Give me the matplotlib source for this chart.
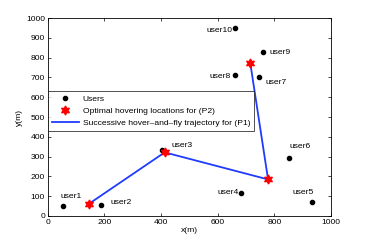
import numpy as np
import matplotlib.pyplot as plt

plt.rcParams['font.family'] = ['Liberation Sans', 'DejaVu Sans']

# user locations (m)
user_names = ['user1', 'user2', 'user3', 'user4', 'user5',
              'user6', 'user7', 'user8', 'user9', 'user10']
user_x = [54, 187, 403, 684, 934, 851, 747, 661, 761, 662]
user_y = [51, 54, 331, 117, 68, 291, 703, 711, 828, 951]

# optimal hovering locations, in flying order
hover_x = [146, 413, 778, 715]
hover_y = [61, 321, 184, 775]

# label offsets (data units) and alignment
label_dx = [-8, 33, 35, -10, -69, 2, 23, -14, 21, -9]
label_dy = [45, 12, 24, 0, 49, 59, -27, -8, 0, -13]
label_ha = ['left', 'left', 'left', 'right', 'left',
            'left', 'left', 'right', 'left', 'right']

fig = plt.figure(figsize=(3.65, 2.43), dpi=100)
ax = fig.add_axes([0.1307, 0.112, 0.776, 0.813])

fs = 6.1
ax.plot(user_x, user_y, 'o', color='k', markersize=3, linestyle='none', label='Users')
ax.plot(hover_x, hover_y, linestyle='none', marker=(6, 1, 0), color='red',
        markersize=6.5, label='Optimal hovering locations for (P2)', zorder=4)
ax.plot(hover_x, hover_y, '-', color='#1f3bff', linewidth=1.3,
        label='Successive hover\u2013and\u2013fly trajectory for (P1)', zorder=3)

for name, x, y, dx, dy, ha in zip(user_names, user_x, user_y, label_dx, label_dy, label_ha):
    ax.text(x + dx, y + dy, name, ha=ha, va='center', fontsize=fs)

ax.set_xlim(0, 1000)
ax.set_ylim(0, 1000)
ax.set_xticks(np.arange(0, 1001, 200))
ax.set_yticks(np.arange(0, 1001, 100))
ax.tick_params(direction='in', top=True, right=True, labelsize=fs, length=2.5, width=0.5, pad=2)
for s in ax.spines.values():
    s.set_linewidth(0.6)
ax.set_xlabel('x(m)', fontsize=fs, labelpad=1)
ax.set_ylabel('y(m)', fontsize=fs, labelpad=2)

leg = ax.legend(loc='upper left', bbox_to_anchor=(0.0, 0.632), fontsize=fs,
                frameon=True, fancybox=False, edgecolor='k', borderaxespad=0,
                handlelength=3.2, handletextpad=0.5, labelspacing=0.5,
                borderpad=0.45)
leg.get_frame().set_linewidth(0.6)

fig.savefig('out.png', dpi=100)
